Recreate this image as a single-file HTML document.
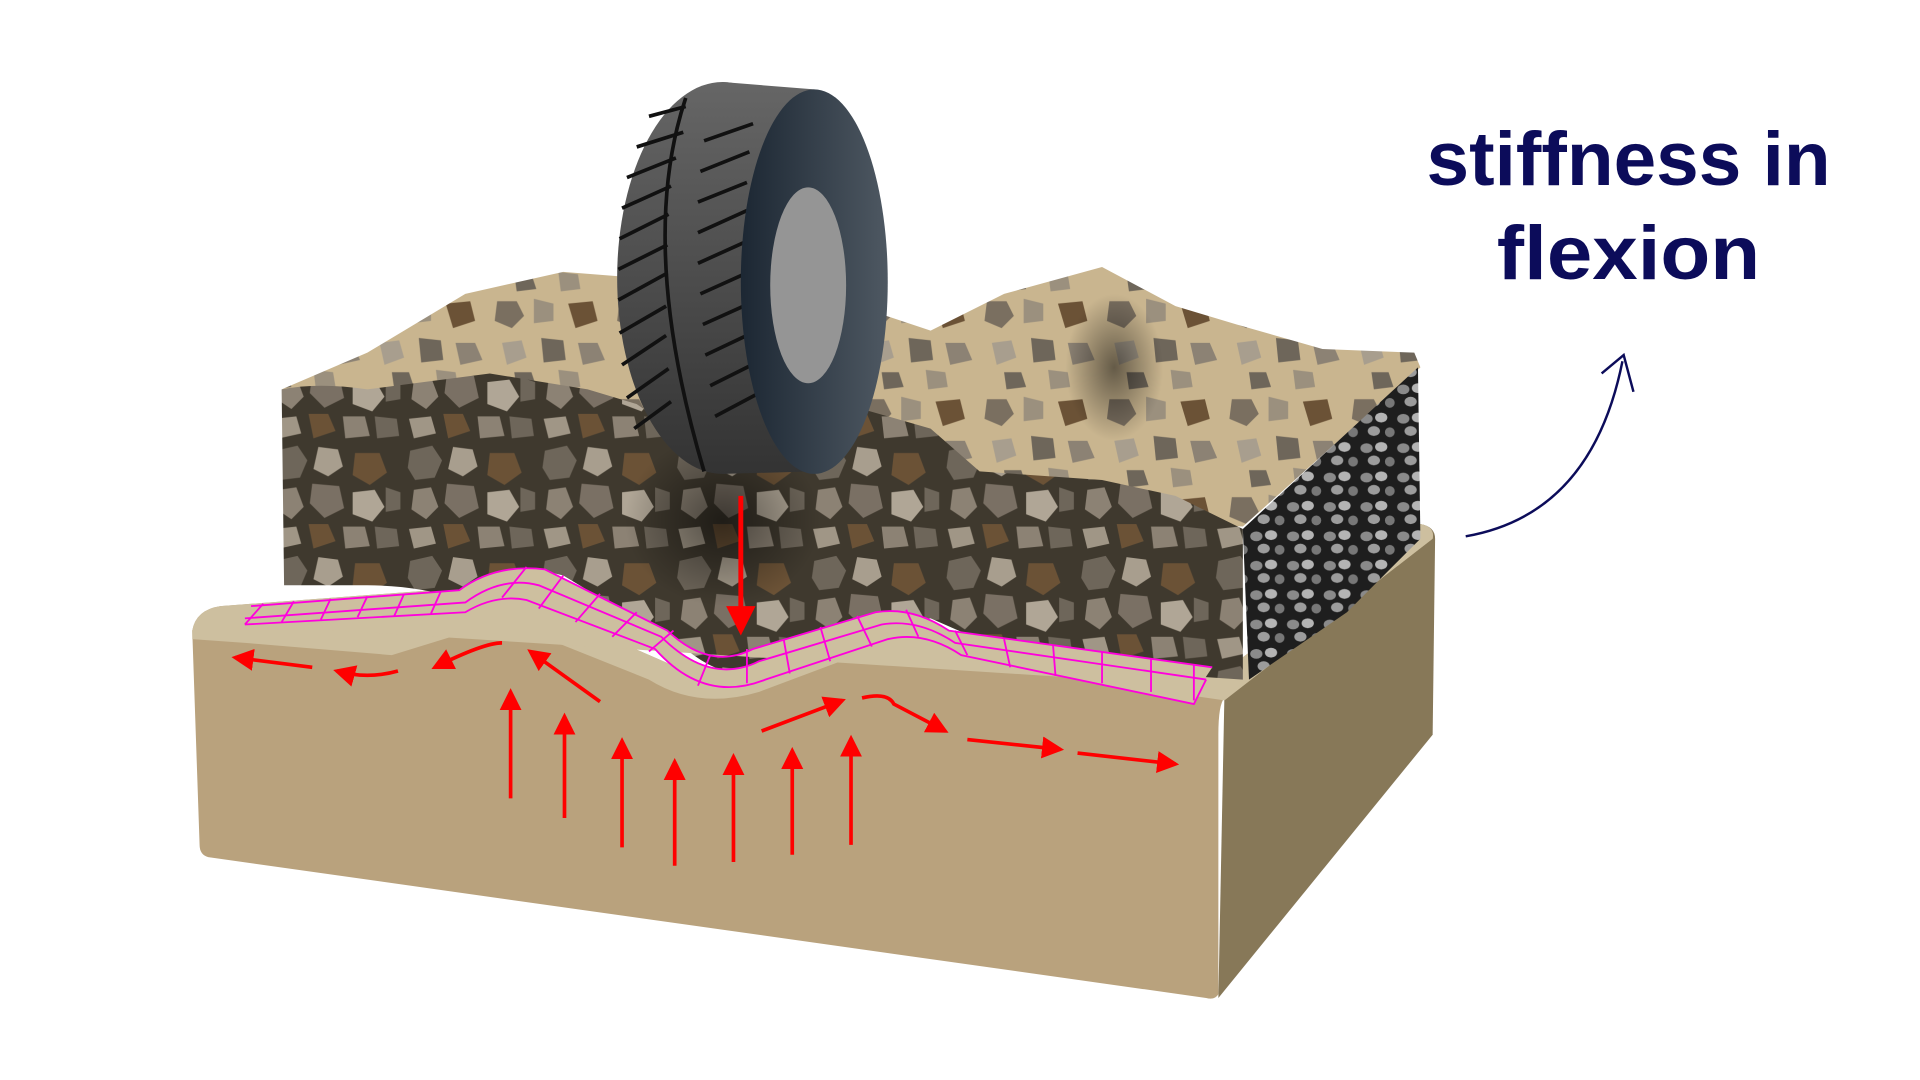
<!DOCTYPE html>
<html><head><meta charset="utf-8"><style>html,body{margin:0;padding:0;background:#fff;width:1920px;height:1080px;overflow:hidden}svg{display:block}</style></head><body>
<svg width="1920" height="1080" viewBox="0 0 1568 882" preserveAspectRatio="none" xmlns="http://www.w3.org/2000/svg">
<defs>
<pattern id="dk" width="110" height="90" patternUnits="userSpaceOnUse">
<rect width="110" height="90" fill="#3f392e"/>
<path d="M5,8 l18,-4 8,12 -6,14 -16,2 -6,-10z" fill="#6e665a"/>
<path d="M40,5 l16,2 4,14 -12,8 -12,-6z" fill="#a89e8e"/>
<path d="M70,10 l20,0 6,16 -14,10 -14,-8z" fill="#6b5236"/>
<path d="M8,40 l14,-2 6,16 -10,10 -12,-8z" fill="#8c8274"/>
<path d="M35,35 l22,2 4,18 -16,8 -12,-12z" fill="#7a7064"/>
<path d="M68,42 l18,-2 8,14 -10,12 -16,-6z" fill="#b0a696"/>
<path d="M95,38 l12,4 0,14 -12,2z" fill="#6e665a"/>
<path d="M4,72 l18,-2 4,14 -18,4z" fill="#a09686"/>
<path d="M32,68 l16,0 6,14 -18,6z" fill="#6b5236"/>
<path d="M60,70 l18,0 4,16 -20,2z" fill="#8c8274"/>
<path d="M86,70 l18,2 2,14 -18,2z" fill="#6e665a"/>
</pattern>
<pattern id="bg" width="100" height="80" patternUnits="userSpaceOnUse">
<rect width="100" height="80" fill="#c9b58f"/>
<path d="M6,6 l16,0 6,12 -10,10 -14,-6z" fill="#7a6f60"/>
<path d="M36,4 l16,4 0,14 -16,2z" fill="#9b907e"/>
<path d="M64,8 l20,-2 4,16 -18,6z" fill="#6b5236"/>
<path d="M10,40 l16,-2 4,14 -16,6z" fill="#a89e8e"/>
<path d="M42,36 l18,2 2,16 -18,2z" fill="#6e665a"/>
<path d="M72,40 l16,0 6,14 -18,4z" fill="#8c8274"/>
<path d="M20,64 l14,0 4,12 -16,2z" fill="#6e665a"/>
<path d="M56,62 l16,2 2,12 -16,2z" fill="#9b907e"/>
</pattern>
<pattern id="gr" width="30" height="24" patternUnits="userSpaceOnUse">
<rect width="30" height="24" fill="#1e1e1e"/>
<ellipse cx="6" cy="6" rx="5" ry="4" fill="#8a8a8a"/>
<ellipse cx="18" cy="5" rx="5" ry="4" fill="#b4b4b4"/>
<ellipse cx="12" cy="16" rx="5" ry="4" fill="#9c9c9c"/>
<ellipse cx="25" cy="17" rx="4" ry="4" fill="#777"/>
</pattern>
<linearGradient id="tr" x1="0" y1="0" x2="0" y2="1"><stop offset="0" stop-color="#666"/><stop offset="1" stop-color="#333"/></linearGradient>
<linearGradient id="tf" x1="0" y1="0" x2="1" y2="0"><stop offset="0" stop-color="#1c2733"/><stop offset="1" stop-color="#4e5862"/></linearGradient>
<radialGradient id="sh"><stop offset="0" stop-color="#000" stop-opacity=".5"/><stop offset="1" stop-color="#000" stop-opacity="0"/></radialGradient>
<marker id="ah" markerWidth="6" markerHeight="6" refX="5" refY="3" orient="auto" markerUnits="strokeWidth"><path d="M0,0 L6,3 0,6z" fill="#f00"/></marker>
</defs>
<!-- base -->
<path d="M1000,565 L1160,428 Q1172,430 1172,440 L1170,600 L995,815 Z" fill="#877858"/>
<path d="M157,515 Q160,498 180,495 L380,480 Q420,478 450,500 L560,548 Q600,555 640,540 L700,512 Q740,505 780,520 L1000,548 L1160,428 Q1172,430 1170,440 L1000,570 Q995,575 995,600 L995,812 Q992,817 985,815 L170,700 Q163,698 163,690 Z" fill="#b9a27d"/>
<path d="M157,515 Q160,498 180,495 L380,480 Q420,478 450,500 L560,548 Q600,555 640,540 L700,512 Q740,505 780,520 L1000,548 L1160,428 Q1172,430 1170,440 L1000,572 L780,540 Q740,528 700,535 L620,565 Q570,580 530,555 L430,515 Q410,505 385,515 L320,535 Q260,530 200,525 L157,522Z" fill="#cdbf9f"/>
<!-- aggregate -->
<path d="M230,318 L300,288 380,240 460,222 560,230 700,250 760,270 820,240 900,218 960,250 1010,265 1080,285 1155,288 1160,300 1015,430 760,420 600,380 400,330Z" fill="url(#bg)"/>
<path d="M230,318 Q260,312 300,318 L400,305 480,318 520,330 600,385 690,330 760,350 800,385 900,392 960,405 1015,432 1015,555 L970,552 Q900,545 840,540 L760,505 Q730,510 700,520 L620,550 Q590,555 560,530 L460,470 Q430,462 410,470 L380,490 Q340,478 300,478 L232,478Z" fill="url(#dk)"/>
<path d="M1015,432 L1158,300 1160,440 1100,500 1020,555Z" fill="url(#gr)"/>
<ellipse cx="590" cy="425" rx="80" ry="70" fill="url(#sh)"/>
<ellipse cx="910" cy="300" rx="40" ry="60" fill="url(#sh)"/>
<!-- tire -->
<ellipse cx="590" cy="227" rx="86" ry="160" fill="url(#tr)"/>
<path d="M590,67 L665,73 L665,385 L590,387Z" fill="url(#tr)"/>
<g stroke="#111" stroke-width="3" fill="none">
<path d="M560,80 Q520,200 575,385"/>
<path d="M530,95 l30,-8 M520,120 l38,-12 M512,145 l40,-16 M508,170 l40,-18 M506,195 l40,-20 M505,220 l40,-20 M505,245 l40,-22 M506,272 l38,-22 M508,298 l36,-24 M512,325 l34,-24 M518,350 l30,-22"/>
<path d="M575,115 l40,-14 M572,140 l40,-16 M570,165 l40,-16 M570,190 l40,-18 M570,215 l40,-18 M572,240 l40,-18 M574,265 l40,-18 M576,290 l38,-18 M580,315 l36,-18 M584,340 l34,-18"/>
</g>
<ellipse cx="665" cy="230" rx="60" ry="157" fill="url(#tf)"/>
<ellipse cx="660" cy="233" rx="31" ry="80" fill="#959595"/>
<!-- grid -->
<path d="M200,510 L380,500 Q405,485 430,490 L535,530 Q575,575 625,555 L725,522 Q755,515 785,535 L975,575 L985,555 L780,525 Q750,505 720,510 L620,540 Q580,560 540,520 L440,478 Q410,470 380,492 L200,505 Z M205,495 L200,510 L980,560 L990,545 L775,515 Q745,495 715,500 L615,530 Q580,548 545,515 L445,465 Q405,460 375,482 Z" fill="#cdbf9f"/>
<g stroke="#ff00dd" stroke-width="1.5" fill="none">
<path d="M200,505 L380,492 Q410,470 440,478 L540,520 Q580,560 620,540 L720,510 Q750,505 780,525 L985,555"/>
<path d="M205,495 L375,482 Q405,460 445,465 L545,515 Q580,548 615,530 L715,500 Q745,495 775,515 L990,545"/>
<path d="M200,510 L380,500 Q405,485 430,490 L535,530 Q575,575 625,555 L725,522 Q755,515 785,535 L975,575 L985,555"/>
<path d="M215,493 L200,510 M240,491 L230,508 M270,489 L262,506 M300,487 L292,504 M330,485 L322,503 M360,483 L352,501 M430,463 L410,488 M460,470 L440,497 M490,485 L470,508 M520,500 L500,520 M550,515 L530,532 M580,535 L570,560 M610,530 L610,558 M640,522 L645,550 M670,512 L678,540 M700,503 L712,528 M740,498 L750,520 M780,515 L790,535 M820,522 L825,545 M860,527 L862,552 M900,532 L900,558 M940,538 L940,565 M975,543 L975,572"/>
</g>
<!-- red arrows -->
<g stroke="#f00" stroke-width="3" fill="none" marker-end="url(#ah)">
<path d="M605,405 L605,515" stroke-width="4"/>
<path d="M255,545 L192,537"/>
<path d="M325,548 Q300,555 275,548"/>
<path d="M410,525 Q395,525 355,545"/>
<path d="M490,573 L433,532"/>
<path d="M622,597 L688,572"/>
<path d="M704,570 Q725,565 730,575 L772,597"/>
<path d="M790,604 L866,612"/>
<path d="M880,615 L960,624"/>
<path d="M417,652 L417,565"/><path d="M461,668 L461,585"/><path d="M508,692 L508,605"/><path d="M551,707 L551,622"/><path d="M599,704 L599,618"/><path d="M647,698 L647,613"/><path d="M695,690 L695,603"/>
</g>
<!-- label -->
<text x="1330" y="151" text-anchor="middle" textLength="330" lengthAdjust="spacingAndGlyphs" font-family="Liberation Sans, sans-serif" font-weight="bold" font-size="62" fill="#0c0c5a">stiffness in</text>
<text x="1330" y="228" text-anchor="middle" textLength="215" lengthAdjust="spacingAndGlyphs" font-family="Liberation Sans, sans-serif" font-weight="bold" font-size="62" fill="#0c0c5a">flexion</text>
<path d="M1197,438 Q1300,420 1325,295" stroke="#0c0c5a" stroke-width="2" fill="none"/>
<path d="M1308,305 L1326,290 1334,320" stroke="#0c0c5a" stroke-width="2" fill="none"/>
</svg>
</body></html>
